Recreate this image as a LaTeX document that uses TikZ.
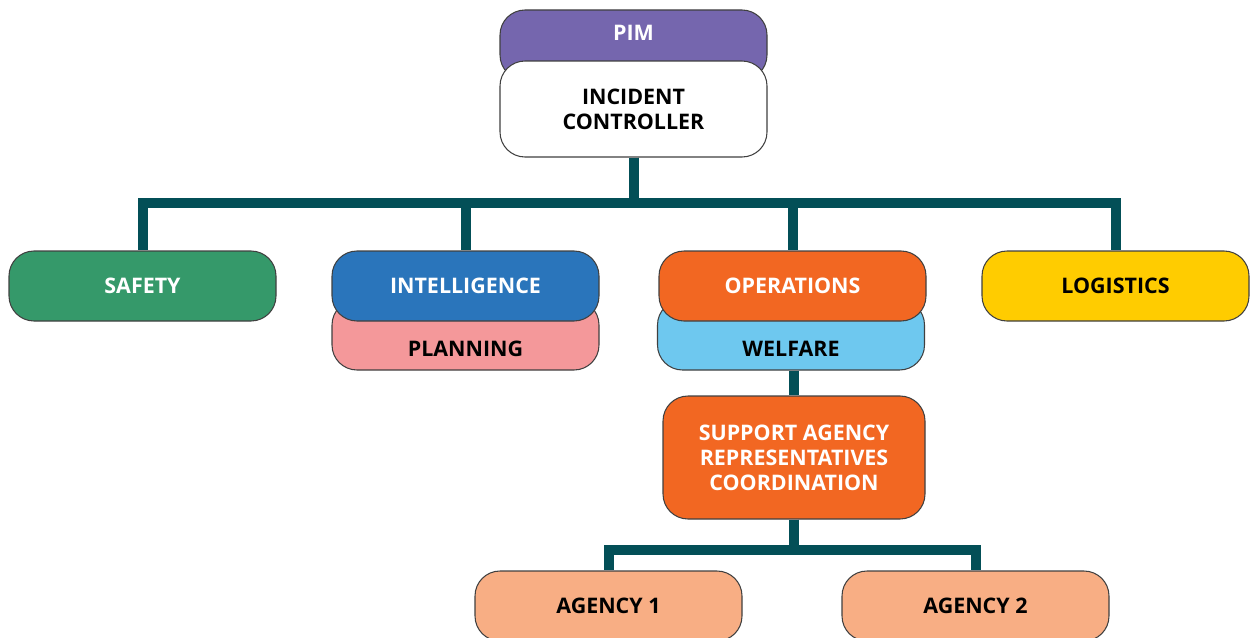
\documentclass[tikz,border=0pt]{standalone}
\usepackage{fontspec}
\setmainfont{Open Sans}
\usepackage{tikz}
\usetikzlibrary{backgrounds}
\usetikzlibrary{positioning}

\definecolor{linkcol}{HTML}{034F57}
\definecolor{pimcol}{HTML}{7566AE}
\definecolor{safecol}{HTML}{35996A}
\definecolor{intelcol}{HTML}{2A75BB}
\definecolor{plancol}{HTML}{F4989A}
\definecolor{opscol}{HTML}{F26722}
\definecolor{welfcol}{HTML}{6EC8EF}
\definecolor{logicol}{HTML}{FFCC00}
\definecolor{agencol}{HTML}{F8AE84}

\begin{document}
\begin{tikzpicture}[
    box/.style={draw=black!75, line width=0.6pt, rounded corners=0.5cm,
      minimum width=5.34cm, minimum height=1.4cm, align=center,
      font=\bfseries\fontsize{12.2}{14.2}\selectfont},
    under/.style={text height=0.84cm, text depth=0pt},
    link/.style={draw=linkcol, line width=0.2cm}]
  \useasboundingbox (0,0) rectangle (25,-12.76);

  % top of the tree
  \node[box, fill=pimcol, text=white, text depth=0.5cm] (pim) at (12.67,-0.9) {PIM};
  \node[box, fill=white, minimum height=1.92cm] (ic) at (12.67,-2.18) {INCIDENT\\CONTROLLER};

  % second row
  \node[box, fill=safecol, text=white] (safety) at (2.85,-5.72) {SAFETY};
  \node[box, fill=plancol, under] (plan) at (9.31,-6.7) {PLANNING};
  \node[box, fill=intelcol, text=white] (intel) at (9.31,-5.72) {INTELLIGENCE};
  \node[box, fill=welfcol, under] (welfare) at (15.82,-6.7) {WELFARE};
  \node[box, fill=opscol, text=white] (ops) at (15.85,-5.72) {OPERATIONS};
  \node[box, fill=logicol] (logi) at (22.31,-5.72) {LOGISTICS};

  % support agencies
  \node[box, fill=opscol, text=white, minimum width=5.24cm, minimum height=2.46cm] (support)
    at (15.88,-9.15) {SUPPORT AGENCY\\REPRESENTATIVES\\COORDINATION};
  \node[box, fill=agencol] (agency1) at (12.17,-12.12) {AGENCY 1};
  \node[box, fill=agencol] (agency2) at (19.51,-12.12) {AGENCY 2};

  \begin{scope}[on background layer]
    \foreach \n in {safety,intel,ops,logi}
      \draw[link] (ic.south) -- ++(0,-0.9) -| (\n.north);
    \draw[link] (welfare.south -| support.north) -- (support.north);
    \foreach \n in {agency1,agency2}
      \draw[link] (support.south) -- ++(0,-0.6) -| (\n.north);
  \end{scope}
\end{tikzpicture}
\end{document}
